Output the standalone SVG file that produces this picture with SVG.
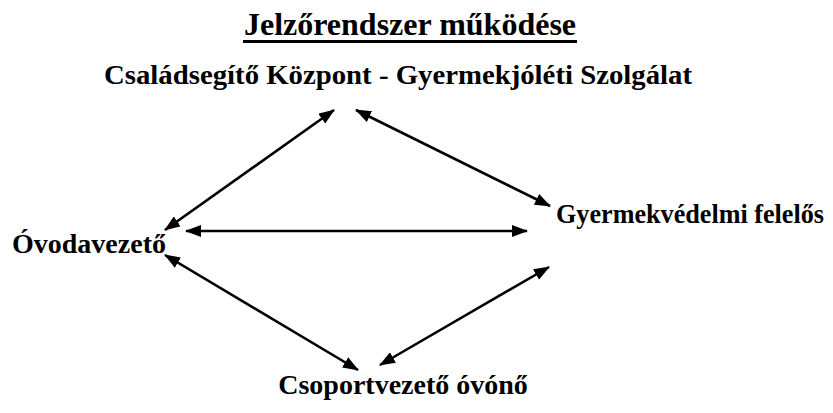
<svg xmlns="http://www.w3.org/2000/svg" width="833" height="413" viewBox="0 0 833 413">
<style>
text{font-family:'Liberation Serif','Times New Roman',serif;font-weight:700;fill:#000}
.t{font-size:32px}
.n{font-size:28px}
.c{stroke:#000;stroke-width:2.6;fill:none;marker-start:url(#a);marker-end:url(#a)}
</style>
<defs>
<marker id="a" viewBox="0 0 16 12" refX="15" refY="6" markerWidth="16" markerHeight="12" markerUnits="userSpaceOnUse" orient="auto-start-reverse">
<path d="M0,0 L16,6 L0,12 Z" fill="#000"/>
</marker>
</defs>
<rect width="833" height="413" fill="#fff"/>
<g id="title">
<text class="t" x="410" y="35" text-anchor="middle">Jelzőrendszer működése</text>
<rect x="243" y="40" width="334" height="3" fill="#000"/>
</g>
<g id="csaladsegito"><text class="n" x="104" y="84" textLength="588" lengthAdjust="spacingAndGlyphs">Családsegítő Központ - Gyermekjóléti Szolgálat</text></g>
<g id="gyermekvedelmi"><text class="n" x="556" y="223" style="font-size:26.5px" textLength="268" lengthAdjust="spacingAndGlyphs">Gyermekvédelmi felelős</text></g>
<g id="ovodavezeto"><text class="n" x="12" y="253">Óvodavezető</text></g>
<g id="csoportvezeto"><text class="n" x="403" y="394" text-anchor="middle">Csoportvezető óvónő</text></g>
<g id="connectors">
<line class="c" x1="165" y1="230" x2="334" y2="110"/>
<line class="c" x1="356" y1="110" x2="550" y2="206"/>
<line class="c" x1="186" y1="231" x2="527" y2="231"/>
<line class="c" x1="165" y1="255" x2="358" y2="370"/>
<line class="c" x1="380" y1="365" x2="549" y2="267"/>
</g>
</svg>
